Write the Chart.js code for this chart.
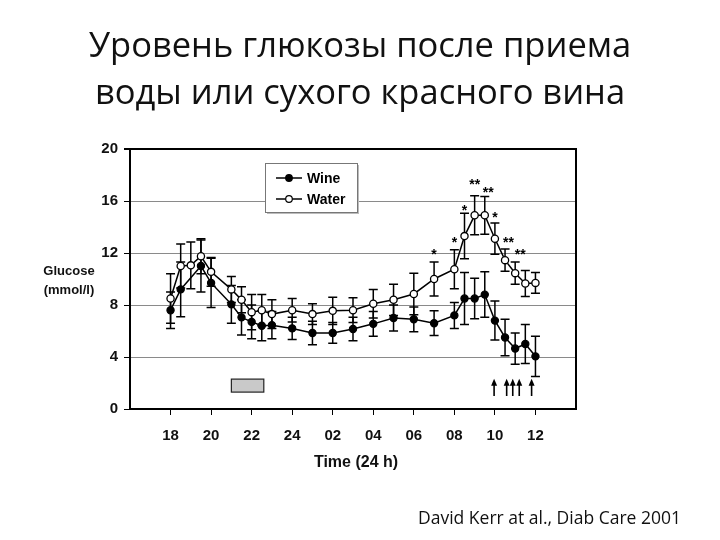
<!DOCTYPE html>
<html>
<head>
<meta charset="utf-8">
<script src="https://cdn.jsdelivr.net/npm/chart.js@4.4.1/dist/chart.umd.min.js"></script>
<style>
  html, body { margin: 0; padding: 0; background: #fff; }
  #wrap { position: relative; width: 720px; height: 540px; overflow: hidden; background: #fff; }
  #c { position: absolute; left: 0; top: 0; }
  .t { position: absolute; white-space: nowrap; color: #111; }
  #title { left: 0; width: 720px; top: 20px; text-align: center; font-family: "Open Sans", "Noto Sans", sans-serif; font-size: 34.5px; line-height: 47px; }
  #ylab { left: 37px; top: 261px; font-family: "Liberation Sans", Arial, sans-serif; font-weight: bold; font-size: 13px; line-height: 19px; text-align: center; width: 64px; }
  #xlab { left: 256px; width: 200px; text-align: center; top: 453px; font-family: "Liberation Sans", Arial, sans-serif; font-weight: bold; font-size: 16px; }
  #cite { left: 418px; top: 505px; font-family: "Open Sans", "Noto Sans", sans-serif; font-size: 17.5px; }
</style>
</head>
<body>
<div id="wrap">
  <canvas id="c" width="720" height="540"></canvas>
  <div id="title" class="t">Уровень глюкозы после приема<br>воды или сухого красного вина</div>
  <div id="ylab" class="t">Glucose<br>(mmol/l)</div>
  <div id="xlab" class="t">Time (24 h)</div>
  <div id="cite" class="t">David Kerr at al., Diab Care 2001</div>
</div>
<script>
// ---- data (time in hours since midnight of day 1; 26 = 02:00 next day) ----
const hours      = [18, 18.5, 19, 19.5, 20, 21, 21.5, 22, 22.5, 23, 24, 25, 26, 27, 28, 29, 30, 31, 32, 32.5, 33, 33.5, 34, 34.5, 35, 35.5, 36];
const wine       = [7.6, 9.2, null, 11.0, 9.7, 8.05, 7.05, 6.7, 6.4, 6.45, 6.2, 5.85, 5.85, 6.15, 6.55, 7.0, 6.9, 6.6, 7.2, 8.5, 8.5, 8.8, 6.8, 5.5, 4.65, 5.0, 4.05];
const wineErr    = [1.4, 2.1, null, 2.0, 1.9, 1.45, 1.35, 1.3, 1.15, 1.05, 0.85, 0.9, 0.8, 0.9, 0.95, 1.0, 0.95, 0.95, 1.0, 2.0, 1.55, 1.75, 1.5, 1.4, 1.2, 1.5, 1.55];
const water      = [8.5, 11.0, 11.05, 11.75, 10.55, 9.2, 8.4, 7.45, 7.6, 7.3, 7.6, 7.3, 7.55, 7.6, 8.1, 8.4, 8.85, 10.0, 10.75, 13.3, 14.9, 14.9, 13.1, 11.45, 10.45, 9.65, 9.7];
const waterErr   = [1.9, 1.7, 1.8, 1.35, 1.1, 1.0, 1.0, 1.35, 1.2, 1.1, 0.9, 0.8, 1.05, 0.95, 1.1, 1.2, 1.6, 1.3, 1.5, 1.75, 1.5, 1.45, 1.2, 0.85, 0.85, 1.0, 0.8];
const xTicks     = [18, 20, 22, 24, 26, 28, 30, 32, 34, 36];
const xTickLabels= ["18", "20", "22", "24", "02", "04", "06", "08", "10", "12"];
const yTicks     = [0, 4, 8, 12, 16, 20];
const seriesNames= ["Wine", "Water"];
// significance marks (hour, glucose level where mark sits, label)
const starHours  = [31, 32, 32.5, 33, 33.67, 34, 34.67, 35.25];
const starLevels = [12.05, 13.0, 15.45, 17.45, 16.85, 14.95, 13.0, 12.05];
const starLabels = ["*", "*", "*", "**", "**", "*", "**", "**"];
// arrows (hours) and their span in glucose units
const arrowHours = [33.96, 34.58, 34.88, 35.2, 35.81];
const arrowSpan  = [1.0, 2.25];
// grey bar (hours) and its span in glucose units
const barHours   = [21.0, 22.6];
const barSpan    = [1.3, 2.3];

const toPts = (ys) => hours.map((h, i) => ({ x: h, y: ys[i] }));

const errPlugin = {
  id: 'extras',
  beforeDatasetsDraw(chart) {
    const { ctx, chartArea: a, scales: { x, y } } = chart;
    ctx.save();
    // right border
    ctx.strokeStyle = '#000'; ctx.lineWidth = 2;
    ctx.beginPath(); ctx.moveTo(a.right, a.top - 1); ctx.lineTo(a.right, a.bottom); ctx.stroke();
    // error bars
    ctx.lineWidth = 1.5;
    const errs = [[wine, wineErr], [water, waterErr]];
    errs.forEach(([vals, e]) => {
      hours.forEach((h, i) => {
        if (vals[i] == null || e[i] == null) return;
        const px = x.getPixelForValue(h);
        const t = y.getPixelForValue(vals[i] + e[i]);
        const b = y.getPixelForValue(vals[i] - e[i]);
        ctx.beginPath();
        ctx.moveTo(px, t); ctx.lineTo(px, b);
        ctx.moveTo(px - 4.5, t); ctx.lineTo(px + 4.5, t);
        ctx.moveTo(px - 4.5, b); ctx.lineTo(px + 4.5, b);
        ctx.stroke();
      });
    });
    // grey bar
    const bx0 = x.getPixelForValue(barHours[0]), bx1 = x.getPixelForValue(barHours[1]);
    const by0 = y.getPixelForValue(barSpan[1]), by1 = y.getPixelForValue(barSpan[0]);
    ctx.fillStyle = '#c9c9c9';
    ctx.fillRect(bx0, by0, bx1 - bx0, by1 - by0);
    ctx.lineWidth = 1.2; ctx.strokeStyle = '#222';
    ctx.strokeRect(bx0, by0, bx1 - bx0, by1 - by0);
    // arrows
    ctx.lineWidth = 1.6; ctx.fillStyle = '#000'; ctx.strokeStyle = '#000';
    arrowHours.forEach(h => {
      const px = x.getPixelForValue(h);
      const top = y.getPixelForValue(arrowSpan[1]), bot = y.getPixelForValue(arrowSpan[0]);
      ctx.beginPath(); ctx.moveTo(px, bot); ctx.lineTo(px, top + 4); ctx.stroke();
      ctx.beginPath(); ctx.moveTo(px, top - 1); ctx.lineTo(px - 3, top + 6); ctx.lineTo(px + 3, top + 6); ctx.closePath(); ctx.fill();
    });
    ctx.restore();
  },
  afterDatasetsDraw(chart) {
    const { ctx, chartArea: a, scales: { x, y } } = chart;
    ctx.save();
    // stars
    ctx.fillStyle = '#000';
    ctx.font = 'bold 14px "Liberation Sans", Arial, sans-serif';
    ctx.textAlign = 'center'; ctx.textBaseline = 'middle';
    starHours.forEach((h, i) => {
      ctx.fillText(starLabels[i], x.getPixelForValue(h), y.getPixelForValue(starLevels[i]) + 3);
    });
    // legend box
    const lx = a.left + 135, ly = a.top + 14, lw = 92, lh = 49;
    ctx.fillStyle = '#bbb';
    ctx.fillRect(lx + 2, ly + 2, lw, lh);
    ctx.fillStyle = '#fff';
    ctx.fillRect(lx, ly, lw, lh);
    ctx.strokeStyle = '#777'; ctx.lineWidth = 1;
    ctx.strokeRect(lx + 0.5, ly + 0.5, lw, lh);
    ctx.font = 'bold 14px "Liberation Sans", Arial, sans-serif';
    ctx.textAlign = 'left'; ctx.textBaseline = 'middle';
    chart.data.datasets.forEach((ds, i) => {
      const cy = ly + 15 + i * 21;
      ctx.strokeStyle = '#000'; ctx.lineWidth = 1.5;
      ctx.beginPath(); ctx.moveTo(lx + 11, cy); ctx.lineTo(lx + 37, cy); ctx.stroke();
      ctx.beginPath(); ctx.arc(lx + 24, cy, 3.3, 0, Math.PI * 2);
      ctx.fillStyle = ds.pointBackgroundColor; ctx.fill(); ctx.lineWidth = 1.2; ctx.stroke();
      ctx.fillStyle = '#000';
      ctx.fillText(ds.label, lx + 42, cy + 1);
    });
    ctx.restore();
  }
};

const YW = 36, XH = 40;
new Chart(document.getElementById('c'), {
  type: 'line',
  data: {
    datasets: [
      { label: seriesNames[0], data: toPts(wine), borderColor: '#000', borderWidth: 1.5,
        pointBackgroundColor: '#000', pointBorderColor: '#000', pointRadius: 3.6, pointBorderWidth: 1.2,
        spanGaps: true, tension: 0 },
      { label: seriesNames[1], data: toPts(water), borderColor: '#000', borderWidth: 1.5,
        pointBackgroundColor: '#fff', pointBorderColor: '#000', pointRadius: 3.6, pointBorderWidth: 1.3,
        spanGaps: true, tension: 0 }
    ]
  },
  options: {
    responsive: false, animation: false, devicePixelRatio: 1,
    layout: { padding: { left: 130 - YW, right: 144, top: 149, bottom: 131 - XH } },
    plugins: { legend: { display: false }, tooltip: { enabled: false }, title: { display: false } },
    scales: {
      x: {
        type: 'linear', min: 16, max: 38,
        afterFit: s => { s.height = XH; },
        afterBuildTicks: s => { s.ticks = xTicks.map(v => ({ value: v })); },
        ticks: {
          autoSkip: false, maxRotation: 0, padding: 12,
          color: '#111', font: { family: '"Liberation Sans", Arial, sans-serif', weight: 'bold', size: 15 },
          callback: v => { const i = xTicks.indexOf(v); return i >= 0 ? xTickLabels[i] : ''; }
        },
        grid: { drawOnChartArea: false, drawTicks: true, tickLength: 6, tickColor: '#000', tickWidth: 1 },
        border: { color: '#000', width: 2 }
      },
      y: {
        min: 0, max: 20,
        afterFit: s => { s.width = YW; },
        afterBuildTicks: s => { s.ticks = yTicks.map(v => ({ value: v })); },
        ticks: {
          padding: 6, color: '#111',
          font: { family: '"Liberation Sans", Arial, sans-serif', weight: 'bold', size: 15 }
        },
        grid: {
          color: c => (c.tick && c.tick.value === 20) ? '#000' : '#8a8a8a',
          lineWidth: c => (c.tick && c.tick.value === 20) ? 2 : 1,
          tickLength: 6, tickColor: '#000'
        },
        border: { color: '#000', width: 2 }
      }
    }
  },
  plugins: [errPlugin]
});
</script>
</body>
</html>
